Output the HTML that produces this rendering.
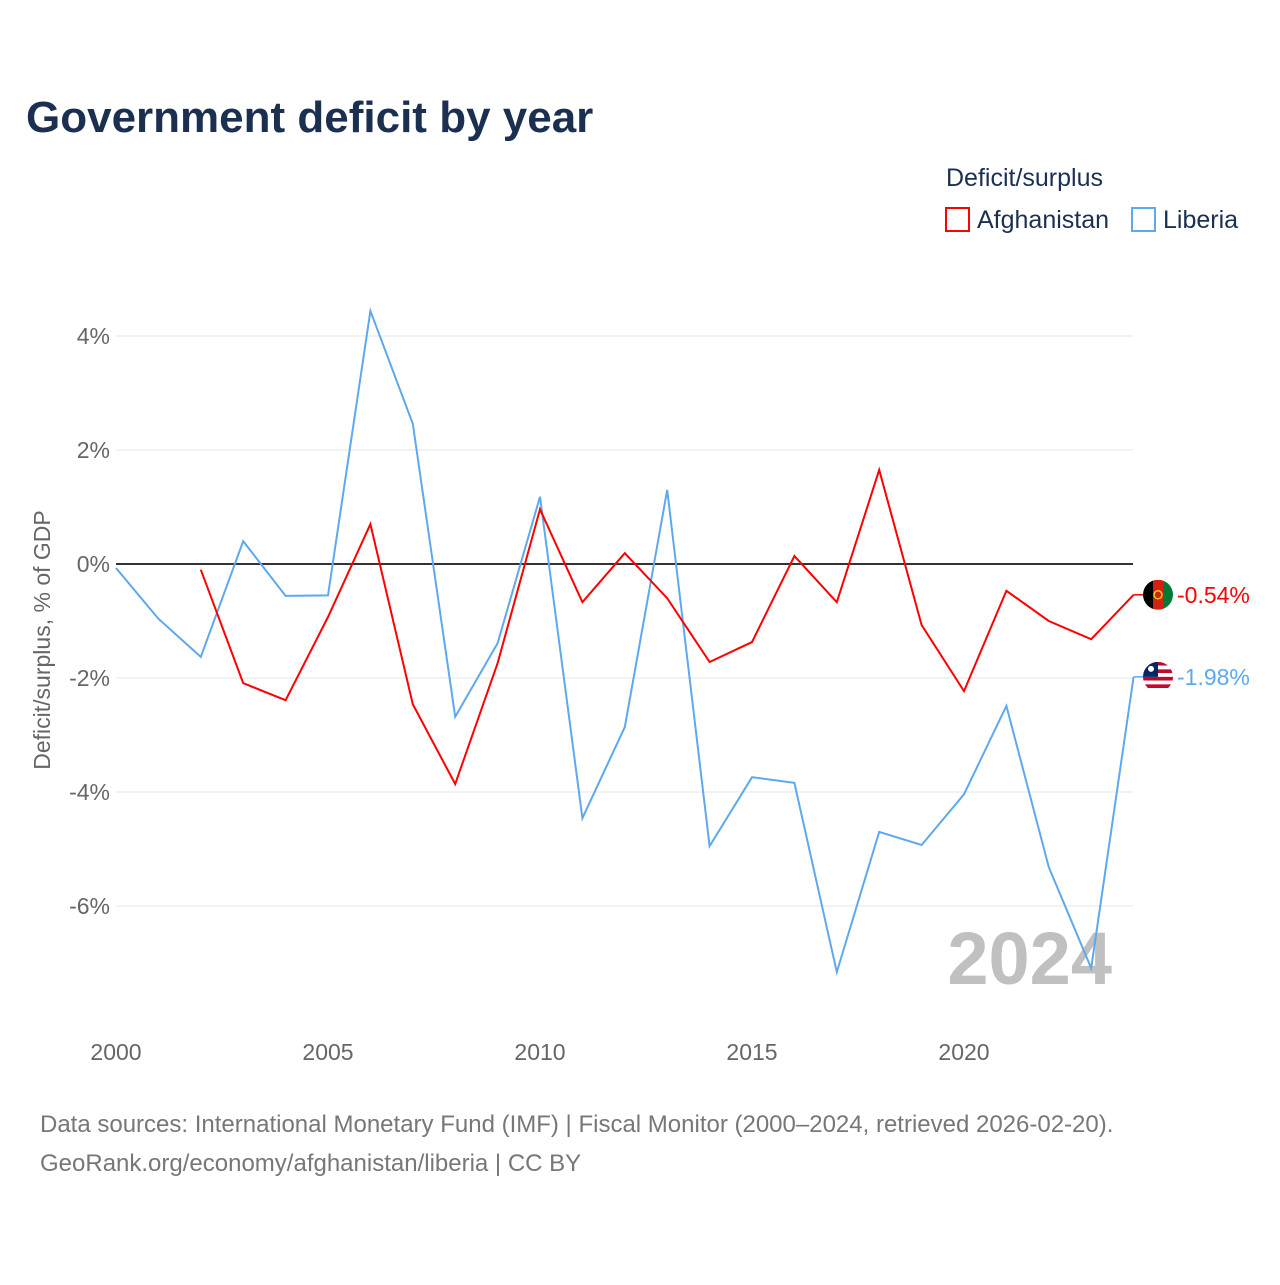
<!DOCTYPE html>
<html><head><meta charset="utf-8"><style>
body{margin:0;background:#fff;font-family:"Liberation Sans",sans-serif}
svg text{font-family:"Liberation Sans",sans-serif}
</style></head><body>
<svg id="chart" width="1280" height="1280" viewBox="0 0 1280 1280">
<text x="26" y="132" font-size="44" font-weight="bold" fill="#1b3050">Government deficit by year</text>
<text x="946" y="186" font-size="25" fill="#1b3050">Deficit/surplus</text>
<g><rect x="946" y="208" width="23" height="23" fill="none" stroke="#f00" stroke-width="2"/><text x="977" y="228" font-size="25" fill="#1b3050">Afghanistan</text></g>
<g><rect x="1132" y="208" width="23" height="23" fill="none" stroke="#5ea8ee" stroke-width="2"/><text x="1163" y="228" font-size="25" fill="#1b3050">Liberia</text></g>
<text transform="translate(50,640) rotate(-90)" text-anchor="middle" font-size="23" fill="#666">Deficit/surplus, % of GDP</text>
<g id="grid"></g><g id="yticks"></g><g id="xticks"></g>
<text x="1112" y="984" text-anchor="end" font-size="74" font-weight="bold" fill="#c0c0c0">2024</text>
<g id="series"></g>
<text x="40" y="1132" font-size="24" fill="#777">Data sources: International Monetary Fund (IMF) | Fiscal Monitor (2000–2024, retrieved 2026-02-20).</text>
<text x="40" y="1171" font-size="24" fill="#777">GeoRank.org/economy/afghanistan/liberia | CC BY</text>
</svg>
<script>
const years=[2000,2001,2002,2003,2004,2005,2006,2007,2008,2009,2010,2011,2012,2013,2014,2015,2016,2017,2018,2019,2020,2021,2022,2023,2024];
const liberia=[-0.07,-0.96,-1.63,0.4,-0.56,-0.55,4.44,2.46,-2.68,-1.39,1.18,-4.46,-2.86,1.3,-4.95,-3.74,-3.84,-7.16,-4.70,-4.93,-4.04,-2.49,-5.32,-7.09,-1.98];
const afghanistan=[null,null,-0.1,-2.09,-2.39,-0.93,0.7,-2.46,-3.86,-1.74,0.96,-0.67,0.19,-0.6,-1.72,-1.37,0.14,-0.67,1.65,-1.07,-2.23,-0.47,-1.0,-1.32,-0.54];
const yTicks=[4,2,0,-2,-4,-6];
const xTicks=[2000,2005,2010,2015,2020];
const NS="http://www.w3.org/2000/svg";
const X=y=>116+(y-2000)*42.4, Y=v=>564-v*57;
function mk(t,a,p){const e=document.createElementNS(NS,t);for(const k in a)e.setAttribute(k,a[k]);p.appendChild(e);return e;}
const svg=document.getElementById('chart');
const grid=document.getElementById('grid'),yt=document.getElementById('yticks'),xt=document.getElementById('xticks'),sr=document.getElementById('series');
yTicks.forEach(v=>{
 const l=mk('line',{x1:116,x2:1133,y1:Y(v),y2:Y(v),stroke:v===0?'#333':'#e6e6e6','stroke-width':v===0?2:1},grid);
 
 
 const t=mk('text',{x:110,y:Y(v)+8,'text-anchor':'end','font-size':23,fill:'#666'},yt);
 t.textContent=v+'%';
 
 
});
xTicks.forEach(v=>{
 const t=mk('text',{x:X(v),y:1060,'text-anchor':'middle','font-size':23,fill:'#666'},xt);
 t.textContent=v;
 
 
});
const defs=mk('defs',{},svg);
function flag(name,cy){
 const cp=mk('clipPath',{id:'clip-'+name},defs);
 mk('circle',{cx:1158,cy:cy,r:15},cp);
 const g=mk('g',{'clip-path':'url(#clip-'+name+')'},sr);
 
 
 if(name==='afghanistan'){
  mk('rect',{x:1143,y:cy-15,width:10,height:30,fill:'#000'},g);
  mk('rect',{x:1153,y:cy-15,width:10,height:30,fill:'#d32011'},g);
  mk('rect',{x:1163,y:cy-15,width:10,height:30,fill:'#007a36'},g);
  mk('circle',{cx:1158,cy:cy,r:4,fill:'none',stroke:'#fc0','stroke-width':1.5},g);
 }else{
  for(let i=0;i<8;i++)mk('rect',{x:1143,y:cy-15+i*3.75,width:30,height:3.75,fill:i%2?'#fff':'#bf0a30'},g);
  mk('rect',{x:1143,y:cy-15,width:15,height:15,fill:'#002868'},g);
  mk('circle',{cx:1151,cy:cy-8,r:3,fill:'#fff'},g);
 }
}
function line(data,color,name){
 let d='';years.forEach((y,i)=>{if(data[i]==null)return;d+=(d?'L':'M')+X(y)+','+Y(data[i]);});
 const p=mk('path',{d:d,fill:'none',stroke:color,'stroke-width':2},sr);
 
 
 const last=data[data.length-1];
 mk('line',{x1:X(2024),x2:X(2024)+12,y1:Y(last),y2:Y(last),stroke:color,'stroke-width':1.5},sr);
 flag(name,Y(last));
 const t=mk('text',{x:1177,y:Y(last)+8,'font-size':23,fill:color},sr);
 t.textContent=last.toFixed(2)+'%';
 
 
}
line(liberia,'#5ea8ee','liberia');
line(afghanistan,'#f00','afghanistan');
</script>
</body></html>
